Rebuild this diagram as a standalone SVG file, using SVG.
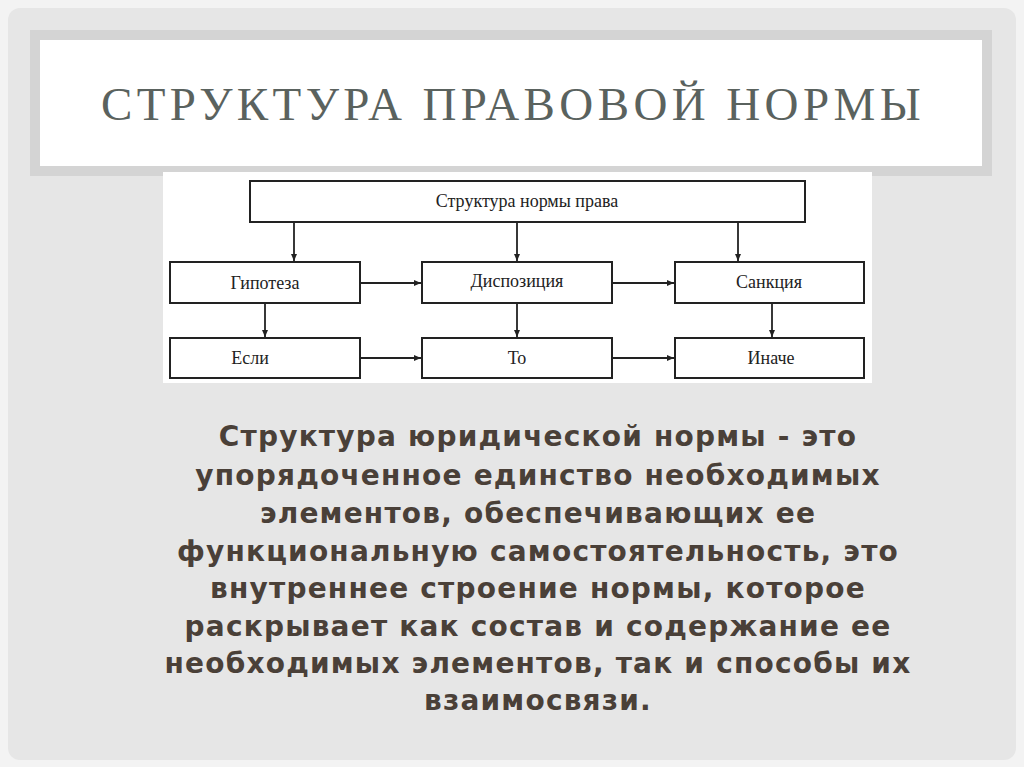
<svg xmlns="http://www.w3.org/2000/svg" width="1024" height="767" viewBox="0 0 1024 767">
<defs>
<style>
.box{fill:#fff;stroke:#222;stroke-width:2}
.lbl{font-family:"Liberation Serif",serif;font-size:18px;fill:#222;text-anchor:middle}
.ln{stroke:#222;stroke-width:1.8;fill:none;marker-end:url(#ah)}
.body{font-family:"DejaVu Sans","Liberation Sans",sans-serif;font-weight:bold;font-size:28px;letter-spacing:1.2px;fill:#4a4038;text-anchor:middle}
</style>
<marker id="ah" markerWidth="8" markerHeight="8" refX="7" refY="4" orient="auto" markerUnits="userSpaceOnUse"><path d="M0,1 L7,4 L0,7 Z" fill="#222"/></marker>
</defs>
<rect width="1024" height="767" fill="#f3f3f3"/>
<rect x="8" y="8" width="1008" height="752" rx="12" fill="#e6e6e6"/>
<rect x="30" y="30" width="962" height="146" fill="#d4d4d4"/>
<rect x="40" y="40" width="942" height="126" fill="#fff"/>
<text x="513" y="120" font-family="Liberation Serif,serif" font-size="47" fill="#5a625e" text-anchor="middle" letter-spacing="4.4">СТРУКТУРА ПРАВОВОЙ НОРМЫ</text>
<rect x="163" y="172" width="709" height="211" fill="#fff"/>
<g id="connectors">
<path class="ln" d="M294 222 V261"/><path class="ln" d="M517 222 V261"/><path class="ln" d="M738 222 V261"/>
<path class="ln" d="M265 303 V337"/><path class="ln" d="M517 303 V337"/><path class="ln" d="M772 303 V337"/>
<path class="ln" d="M360 283 H421"/><path class="ln" d="M612 283 H674"/>
<path class="ln" d="M360 358 H421"/><path class="ln" d="M612 358 H674"/>
</g>
<g id="n0"><rect class="box" x="250" y="181" width="555" height="41"/><text class="lbl" x="527" y="207">Структура нормы права</text></g>
<g id="n1"><rect class="box" x="170" y="262" width="190" height="41"/><text class="lbl" x="265" y="289">Гипотеза</text></g>
<g id="n2"><rect class="box" x="422" y="262" width="190" height="41"/><text class="lbl" x="517" y="287">Диспозиция</text></g>
<g id="n3"><rect class="box" x="675" y="262" width="189" height="41"/><text class="lbl" x="769" y="288">Санкция</text></g>
<g id="n4"><rect class="box" x="170" y="338" width="190" height="40"/><text class="lbl" x="250" y="364">Если</text></g>
<g id="n5"><rect class="box" x="422" y="338" width="190" height="40"/><text class="lbl" x="517" y="364">То</text></g>
<g id="n6"><rect class="box" x="675" y="338" width="189" height="40"/><text class="lbl" x="771" y="364">Иначе</text></g>
<g class="body">
<text x="538" y="446">Структура юридической нормы - это</text>
<text x="538" y="485">упорядоченное единство необходимых</text>
<text x="538" y="523">элементов, обеспечивающих ее</text>
<text x="538" y="561">функциональную самостоятельность, это</text>
<text x="538" y="598">внутреннее строение нормы, которое</text>
<text x="538" y="636">раскрывает как состав и содержание ее</text>
<text x="538" y="673">необходимых элементов, так и способы их</text>
<text x="538" y="710">взаимосвязи.</text>
</g>
</svg>
